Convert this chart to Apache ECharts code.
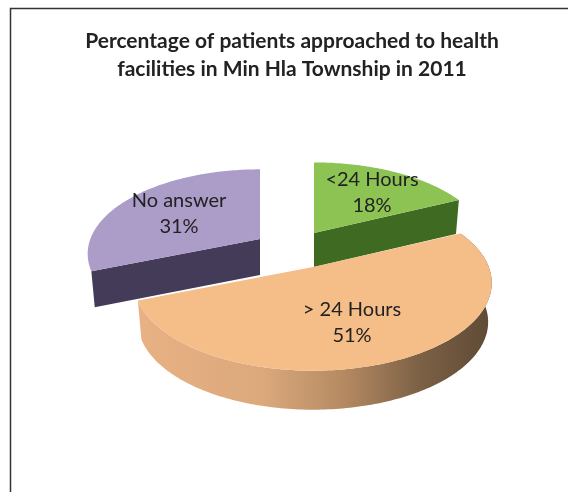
<!DOCTYPE html>
<html><head><meta charset="utf-8">
<style>html,body{margin:0;padding:0;background:#fff}#c{width:568px;height:492px}</style>
<script src="https://cdn.jsdelivr.net/npm/echarts@6/dist/echarts.min.js"></script>
</head><body><div id="c"></div>
<script>
const titleLines = ['Percentage of patients approached to health', 'facilities in Min Hla Township in 2011'];
const categories = ['<24 Hours', '> 24 Hours', 'No answer'];
const values = [18, 51, 31];

const PIE = {cx: 314, cy: 267, rx: 174, ry: 84, k: 0.18};
const EXPLODE = [[0, -34], [-1, 0], [-54, -28]];
const RADIUS = [0.99, 1.01, 0.975];
const DEPTH = [34, 39, 36];
const BOTTOM_SCALE = 0.98;
const LABEL_POS = [[372, 193], [352, 323], [179, 214]];
const TOP_FILL = ['#8cc353', '#f5bd88', '#ab9cc8'];
const SIDE_FILL = ['#3f6a22', null, '#443b58'];

const total = values.reduce((a, b) => a + b, 0);
const project = (deg, r, o) => {
  const t = deg * Math.PI / 180, u = Math.sin(t) * r, v = -Math.cos(t) * r;
  const w = 1 - PIE.k * v;
  return [PIE.cx + o[0] + PIE.rx * u / w, PIE.cy + o[1] + PIE.ry * v / w];
};

function renderItem(params, api) {
  const i = params.dataIndex, val = api.value(0), o = EXPLODE[i], d = DEPTH[i], r = RADIUS[i];
  const down = p => [PIE.cx + o[0] + (p[0] - PIE.cx - o[0]) * BOTTOM_SCALE, p[1] + d];
  let start = 0;
  for (let j = 0; j < i; j++) start += values[j] / total * 360;
  const end = start + val / total * 360;
  const arc = [];
  for (let a = start; a <= end + 1e-6; a += 1) arc.push(project(a, r, o));
  arc.push(project(end, r, o));
  const apex = project(0, 0, o);
  const children = [];
  if (i === 1) {
    const side = arc.concat(arc.slice().reverse().map(down));
    const xs = arc.map(p => p[0]);
    const x0 = Math.min(...xs), x1 = Math.max(...xs);
    children.push({type: 'polygon', shape: {points: side}, style: {
      fill: {type: 'linear', x: x0, y: 0, x2: x1, y2: 0, global: true, colorStops: [
        {offset: 0, color: '#e9b184'}, {offset: 0.35, color: '#dba97c'},
        {offset: 0.58, color: '#b58a62'}, {offset: 0.8, color: '#7b6045'},
        {offset: 1, color: '#5e4a35'}]}}});
  } else {
    const far = i === 0 ? arc[arc.length - 1] : arc[0];
    children.push({type: 'polygon', shape: {points: [apex, far, down(far), down(apex)]},
      style: {fill: SIDE_FILL[i]}});
  }
  children.push({type: 'polygon', shape: {points: [apex].concat(arc)}, style: {fill: TOP_FILL[i]}});
  const lp = LABEL_POS[i];
  children.push({type: 'text', z2: 10, style: {
    text: categories[i] + '\n' + val + '%', x: lp[0], y: lp[1], align: 'center', verticalAlign: 'middle',
    font: '20px Lato', lineHeight: 26, fill: '#222222'}});
  return {type: 'group', children};
}

const chart = echarts.init(document.getElementById('c'), null, {renderer: 'canvas'});
chart.setOption({
  animation: false,
  backgroundColor: '#ffffff',
  title: {text: titleLines.join('\n'), left: 287, top: 22, textAlign: 'center',
    textStyle: {fontFamily: 'Lato', fontWeight: 'bold', fontSize: 21, lineHeight: 28, color: '#222222'}},
  graphic: [{type: 'polyline', silent: true, shape: {points: [[10.5, 492], [10.5, 8.5], [568, 8.5]]},
    style: {stroke: '#333333', lineWidth: 1.5, fill: null}}],
  series: [{type: 'custom', coordinateSystem: 'none', renderItem,
    data: values.map((v, i) => ({name: categories[i], value: [v]}))}]
});
</script></body></html>
